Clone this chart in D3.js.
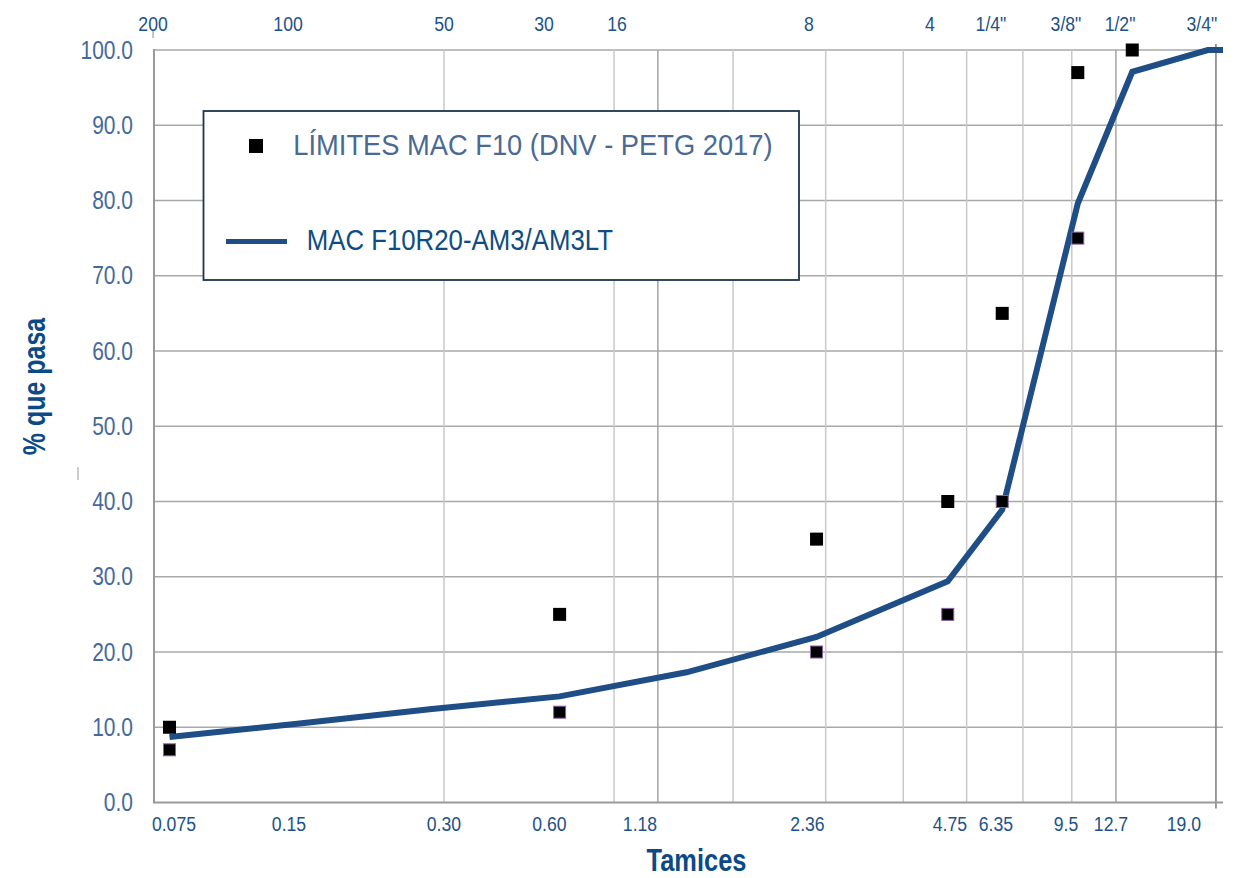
<!DOCTYPE html>
<html>
<head>
<meta charset="utf-8">
<script src="https://cdn.jsdelivr.net/npm/d3@7/dist/d3.min.js"></script>
<style>
  html, body { margin: 0; padding: 0; background: #ffffff; }
  svg { display: block; }
</style>
</head>
<body>
<svg id="chart" width="1240" height="878"></svg>
<script>
// Sieve sizes (mm) at which the gradation is reported
const sieveSizes = [0.075, 0.15, 0.30, 0.60, 1.18, 2.36, 4.75, 6.35, 9.5, 12.7, 19.0, 25.0];
// Mix gradation MAC F10R20-AM3/AM3LT, % passing
const mixPassing = [8.7, 10.5, 12.4, 14.1, 17.3, 22.0, 29.4, 38.9, 79.6, 97.1, 100, 100];

// Specification limits MAC F10 (DNV - PETG 2017)
const upperSizes = [0.075, 0.60, 2.36, 4.75, 6.35, 9.5, 12.7];
const upperLimit = [10, 25, 35, 40, 65, 97, 100];
const lowerSizes = [0.075, 0.60, 2.36, 4.75, 6.35, 9.5];
const lowerLimit = [7, 12, 20, 25, 40, 75];

// Axis labels: opening size in mm (bottom) and sieve designation (top)
const bottomLabels = ["0.075", "0.15", "0.30", "0.60", "1.18", "2.36", "4.75", "6.35", "9.5", "12.7", "19.0"];
const bottomLabelAt = [0.0768, 0.1418, 0.3239, 0.5684, 0.921, 2.249, 4.805, 6.142, 8.92, 11.34, 16.73];
const topLabels = ["200", "100", "50", "30", "16", "8", "4", "1/4\"", "3/8\"", "1/2\"", "3/4\""];
const topLabelAt = [0.0687, 0.1411, 0.3239, 0.552, 0.8146, 2.267, 4.321, 5.98, 8.92, 11.90, 18.41];

// Vertical grid positions (mm)
const lightGrid = [0.324, 0.802, 1.512, 2.478, 3.747, 5.253, 7.09, 9.20];
const darkGrid = [1.013, 11.64];
const edgeGrid = [19.84];
const yTicks = [0, 10, 20, 30, 40, 50, 60, 70, 80, 90, 100];

const FONT = "'Liberation Sans', Arial, Helvetica, sans-serif";

const svg = d3.select("#chart");

const plot = { left: 154, right: 1223, top: 50, bottom: 802.5 };

const x = d3.scaleLog().domain([0.06905, 20.6]).range([plot.left, plot.right]);
const y = d3.scaleLinear().domain([0, 100]).range([plot.bottom, plot.top]);

// Text helper: horizontally condensed glyphs
function label(parent, px, py, str, o) {
  const t = parent.append("text")
    .attr("transform", `translate(${px},${py})${o.rotate ? " rotate(" + o.rotate + ")" : ""} scale(${o.sx || 1},1)`)
    .attr("font-family", FONT)
    .attr("font-size", o.size)
    .attr("font-weight", o.weight || "normal")
    .attr("fill", o.fill)
    .attr("text-anchor", o.anchor || "start")
    .text(str);
  return t;
}

// Horizontal grid
svg.append("g")
  .selectAll("line")
  .data(yTicks.filter(d => d > 0))
  .join("line")
  .attr("x1", plot.left).attr("x2", plot.right)
  .attr("y1", d => y(d)).attr("y2", d => y(d))
  .attr("stroke", "#a9a9a9").attr("stroke-width", 1.5);

// Vertical grid
svg.append("g")
  .selectAll("line")
  .data(lightGrid)
  .join("line")
  .attr("x1", d => x(d)).attr("x2", d => x(d))
  .attr("y1", plot.top).attr("y2", plot.bottom)
  .attr("stroke", "#c9c9c9").attr("stroke-width", 1.5);

svg.append("g")
  .selectAll("line")
  .data(darkGrid)
  .join("line")
  .attr("x1", d => x(d)).attr("x2", d => x(d))
  .attr("y1", plot.top).attr("y2", plot.bottom)
  .attr("stroke", "#a4a4a4").attr("stroke-width", 1.5);

svg.append("g")
  .selectAll("line")
  .data(edgeGrid)
  .join("line")
  .attr("x1", d => x(d)).attr("x2", d => x(d))
  .attr("y1", plot.top - 6).attr("y2", plot.bottom + 6)
  .attr("stroke", "#7a7a7a").attr("stroke-width", 1.5);

// Axis lines
svg.append("line")
  .attr("x1", plot.left).attr("x2", plot.left)
  .attr("y1", plot.top - 1).attr("y2", plot.bottom + 1)
  .attr("stroke", "#9a9a9a").attr("stroke-width", 2);
svg.append("line")
  .attr("x1", plot.left).attr("x2", plot.right)
  .attr("y1", plot.bottom).attr("y2", plot.bottom)
  .attr("stroke", "#9a9a9a").attr("stroke-width", 2);

// small ticks
svg.append("line")
  .attr("x1", x(0.0687)).attr("x2", x(0.0687))
  .attr("y1", 31).attr("y2", 38)
  .attr("stroke", "#8a8a8a").attr("stroke-width", 1);
svg.append("line")
  .attr("x1", 78).attr("x2", 78)
  .attr("y1", 467).attr("y2", 480)
  .attr("stroke", "#9a9a9a").attr("stroke-width", 1);

// Y tick labels
const yLab = svg.append("g");
yTicks.forEach(v => {
  label(yLab, 133, y(v) + 8.5, v.toFixed(1), { size: 25, sx: 0.84, fill: "#46699b", anchor: "end" });
});

// Bottom labels (opening in mm)
const bLab = svg.append("g");
bottomLabels.forEach((s, i) => {
  label(bLab, x(bottomLabelAt[i]), 831, s, { size: 21, sx: 0.84, fill: "#1d5289", anchor: "middle" });
});

// Top labels (sieve designation)
const tLab = svg.append("g");
topLabels.forEach((s, i) => {
  label(tLab, x(topLabelAt[i]), 31, s, { size: 21, sx: 0.84, fill: "#1d5289", anchor: "middle" });
});

// Axis titles
label(svg, 696.5, 871, "Tamices", { size: 31, sx: 0.82, weight: "bold", fill: "#0c4a86", anchor: "middle" });
label(svg, 45, 386.5, "% que pasa", { size: 32, sx: 0.78, weight: "bold", fill: "#0c4a86", anchor: "middle", rotate: -90 });

// Clip to plot area
svg.append("defs").append("clipPath").attr("id", "plotClip")
  .append("rect")
  .attr("x", plot.left).attr("y", plot.top - 10)
  .attr("width", plot.right - plot.left).attr("height", plot.bottom - plot.top + 20);

// Gradation line
const mixData = sieveSizes.map((s, i) => ({ s, p: mixPassing[i] }));
const lineGen = d3.line().x(d => x(d.s)).y(d => y(d.p));
svg.append("path")
  .datum(mixData)
  .attr("clip-path", "url(#plotClip)")
  .attr("d", lineGen)
  .attr("fill", "none")
  .attr("stroke", "#1f4e87")
  .attr("stroke-width", 6)
  .attr("stroke-linejoin", "miter");

// Limit markers
const M = 13;
svg.append("g")
  .selectAll("rect")
  .data(upperSizes.map((s, i) => ({ s, p: upperLimit[i] })))
  .join("rect")
  .attr("x", d => x(d.s) - M / 2).attr("y", d => y(d.p) - M / 2)
  .attr("width", M).attr("height", M)
  .attr("fill", "#000000");

svg.append("g")
  .selectAll("rect")
  .data(lowerSizes.map((s, i) => ({ s, p: lowerLimit[i] })))
  .join("rect")
  .attr("x", d => x(d.s) - (M - 1) / 2).attr("y", d => y(d.p) - (M - 1) / 2)
  .attr("width", M - 1).attr("height", M - 1)
  .attr("fill", "#000000")
  .attr("stroke", "#8a62a8").attr("stroke-width", 1);

// Legend
const lg = svg.append("g");
lg.append("rect")
  .attr("x", 203.5).attr("y", 111)
  .attr("width", 595.5).attr("height", 169)
  .attr("fill", "#ffffff")
  .attr("stroke", "#1e3450").attr("stroke-width", 1.8);
lg.append("rect")
  .attr("x", 249).attr("y", 139).attr("width", 14).attr("height", 14)
  .attr("fill", "#000000");
label(lg, 293.3, 155, "LÍMITES MAC F10 (DNV - PETG 2017)", { size: 30, sx: 0.91, fill: "#4a6a94" });
lg.append("line")
  .attr("x1", 226).attr("x2", 287)
  .attr("y1", 241.5).attr("y2", 241.5)
  .attr("stroke", "#1f4e87").attr("stroke-width", 5);
label(lg, 306.7, 250, "MAC F10R20-AM3/AM3LT", { size: 30, sx: 0.86, fill: "#0f4c81" });
</script>
</body>
</html>
